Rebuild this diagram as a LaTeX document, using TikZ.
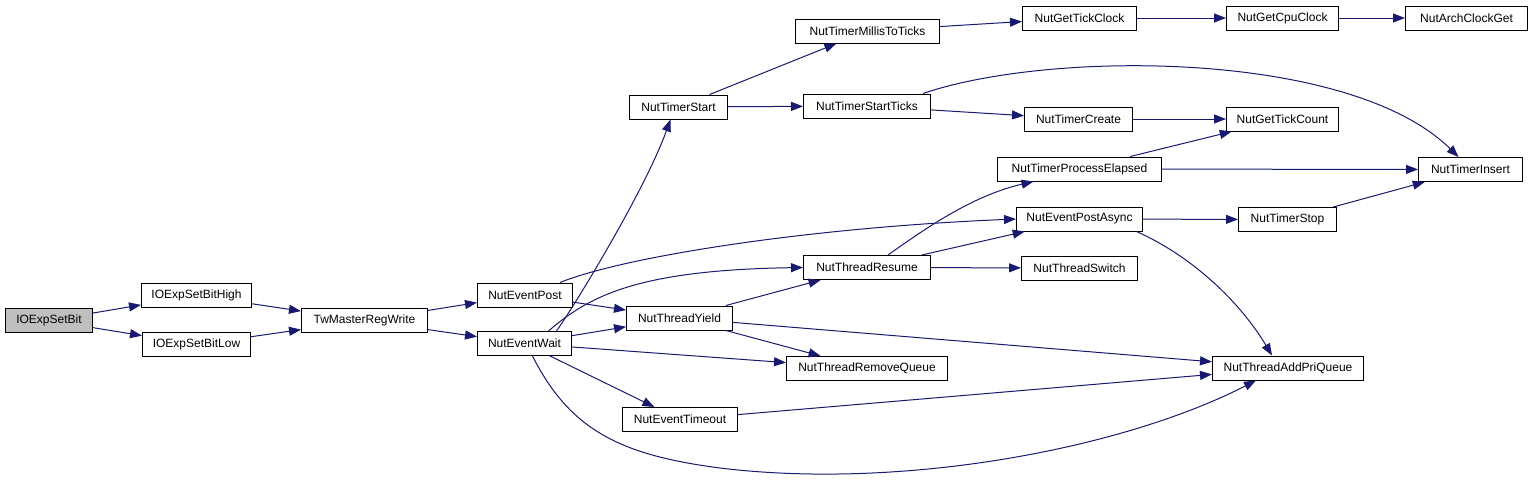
\documentclass[tikz,border=0pt]{standalone}
\usepackage{fontspec}
\setmainfont{Liberation Sans}
\usetikzlibrary{arrows.meta}
\definecolor{edgecol}{HTML}{191970}
\definecolor{rootfill}{HTML}{BFBFBF}
\tikzset{
  fn/.style={draw=black, fill=white, line width=1pt, minimum height=24pt,
    inner sep=0pt, font=\fontsize{12}{14}\selectfont, minimum width=#1pt},
  e/.style={draw=edgecol, line width=1pt, -{Triangle[length=12pt,width=9pt]}},
}
\begin{document}
\begin{tikzpicture}[x=1pt,y=-1pt]
\useasboundingbox[fill=white] (0,0) rectangle (1533,490);
\node[fn=87, fill=rootfill] (IOExpSetBit) at (49,320.5) {IOExpSetBit};
\node[fn=110] (IOExpSetBitHigh) at (196.5,295.5) {IOExpSetBitHigh};
\node[fn=108] (IOExpSetBitLow) at (196.5,344.5) {IOExpSetBitLow};
\node[fn=126] (TwMasterRegWrite) at (364.5,320.5) {TwMasterRegWrite};
\node[fn=95] (NutEventPost) at (525,295) {NutEventPost};
\node[fn=94] (NutEventWait) at (524.5,343.5) {NutEventWait};
\node[fn=106] (NutThreadYield) at (679.5,318) {NutThreadYield};
\node[fn=127] (NutThreadResume) at (867,267.5) {NutThreadResume};
\node[fn=161] (NutThreadRemoveQueue) at (867,368.5) {NutThreadRemoveQueue};
\node[fn=115] (NutEventTimeout) at (680,419.5) {NutEventTimeout};
\node[fn=98] (NutTimerStart) at (678.5,107) {NutTimerStart};
\node[fn=144] (NutTimerMillisToTicks) at (867.5,31) {NutTimerMillisToTicks};
\node[fn=127] (NutTimerStartTicks) at (867,106) {NutTimerStartTicks};
\node[fn=114] (NutGetTickClock) at (1079.5,18) {NutGetTickClock};
\node[fn=108] (NutTimerCreate) at (1078.5,119) {NutTimerCreate};
\node[fn=112] (NutGetCpuClock) at (1282.5,18) {NutGetCpuClock};
\node[fn=122] (NutArchClockGet) at (1466.5,18) {NutArchClockGet};
\node[fn=112] (NutGetTickCount) at (1282.5,119) {NutGetTickCount};
\node[fn=164] (NutTimerProcessElapsed) at (1079.5,169) {NutTimerProcessElapsed};
\node[fn=104] (NutTimerInsert) at (1470.5,169.5) {NutTimerInsert};
\node[fn=126] (NutEventPostAsync) at (1079.5,219) {NutEventPostAsync};
\node[fn=98] (NutTimerStop) at (1287.5,219.5) {NutTimerStop};
\node[fn=116] (NutThreadSwitch) at (1079.5,268) {NutThreadSwitch};
\node[fn=151] (NutThreadAddPriQueue) at (1288,368) {NutThreadAddPriQueue};
% straight connectors
\draw[e] (IOExpSetBit) -- (IOExpSetBitHigh);
\draw[e] (IOExpSetBit) -- (IOExpSetBitLow);
\draw[e] (IOExpSetBitHigh) -- (TwMasterRegWrite);
\draw[e] (IOExpSetBitLow) -- (TwMasterRegWrite);
\draw[e] (TwMasterRegWrite) -- (NutEventPost);
\draw[e] (TwMasterRegWrite) -- (NutEventWait);
\draw[e] (NutEventPost) -- (NutThreadYield);
\draw[e] (NutEventWait) -- (NutThreadYield);
\draw[e] (NutEventWait) -- (NutThreadRemoveQueue);
\draw[e] (NutEventWait) -- (NutEventTimeout);
\draw[e] (NutThreadYield) -- (NutThreadResume);
\draw[e] (NutThreadYield) -- (NutThreadRemoveQueue);
\draw[e] (NutThreadYield) -- (NutThreadAddPriQueue);
\draw[e] (NutEventTimeout) -- (NutThreadAddPriQueue);
\draw[e] (NutTimerStart) -- (NutTimerMillisToTicks);
\draw[e] (NutTimerStart) -- (NutTimerStartTicks);
\draw[e] (NutTimerMillisToTicks) -- (NutGetTickClock);
\draw[e] (NutGetTickClock) -- (NutGetCpuClock);
\draw[e] (NutGetCpuClock) -- (NutArchClockGet);
\draw[e] (NutTimerStartTicks) -- (NutTimerCreate);
\draw[e] (NutTimerCreate) -- (NutGetTickCount);
\draw[e] (NutTimerProcessElapsed) -- (NutGetTickCount);
\draw[e] (NutTimerProcessElapsed) -- (NutTimerInsert);
\draw[e] (NutThreadResume) -- (NutEventPostAsync);
\draw[e] (NutThreadResume) -- (NutThreadSwitch);
\draw[e] (NutEventPostAsync) -- (NutTimerStop);
\draw[e] (NutTimerStop) -- (NutTimerInsert);
% curved connectors
\draw[e] ([xshift=35pt]NutEventPost.north) .. controls (620,258) and (800,228) .. (NutEventPostAsync.west);
\draw[e] ([xshift=32pt]NutEventWait.north) .. controls (575,305) and (645,190) .. ([xshift=-8pt]NutTimerStart.south);
\draw[e] ([xshift=24pt]NutEventWait.north) .. controls (590,295) and (640,270) .. (NutThreadResume.west);
\draw[e] ([xshift=8pt]NutEventWait.south) .. controls (570,430) and (620,455) .. (720,468) .. controls (900,490) and (1120,450) .. ([xshift=-32pt]NutThreadAddPriQueue.south);
\draw[e] ([xshift=56pt]NutTimerStartTicks.north) .. controls (1050,50) and (1350,50) .. ([xshift=-12pt]NutTimerInsert.north);
\draw[e] ([xshift=21pt]NutThreadResume.north) .. controls (930,225) and (975,195) .. ([xshift=-46pt]NutTimerProcessElapsed.south);
\draw[e] ([xshift=57pt]NutEventPostAsync.south) .. controls (1200,260) and (1245,310) .. ([xshift=-16pt]NutThreadAddPriQueue.north);
\end{tikzpicture}
\end{document}
